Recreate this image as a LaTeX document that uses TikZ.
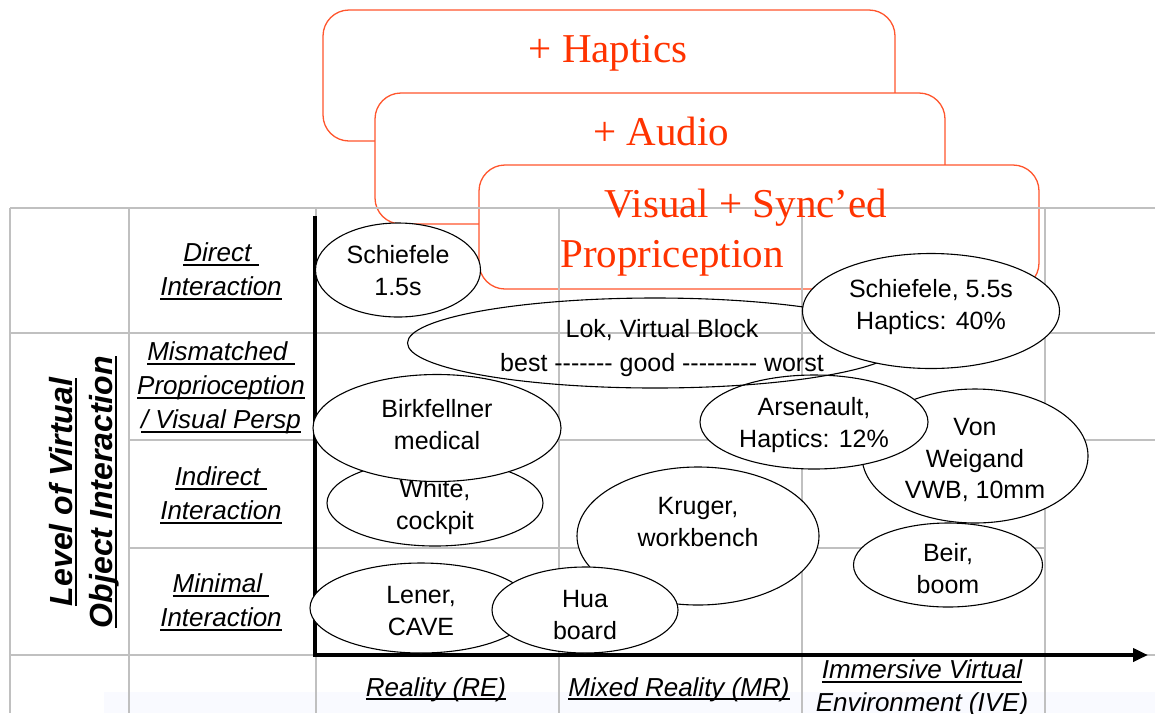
\documentclass[tikz,border=0pt]{standalone}
\usepackage{fontspec}
\setmainfont{Liberation Sans}
\newfontfamily\serifbox{Liberation Serif}
\usetikzlibrary{shapes.geometric,arrows.meta}
\definecolor{gridgray}{RGB}{192,192,192}
\definecolor{boxred}{RGB}{255,85,45}
\definecolor{txtred}{RGB}{255,51,0}
\definecolor{paleblue}{RGB}{249,250,255}
\newcommand\ulx[1]{\setbox0=\hbox{#1}\rlap{\rule[-0.17em]{\wd0}{0.075em}}\box0}
\begin{document}
\begin{tikzpicture}[x=1pt,y=-1pt,
  ell/.style={ellipse, draw=black, line width=1.1pt, fill=white, inner sep=0pt},
  lokell/.style={ellipse, draw=black, line width=1.1pt, inner sep=0pt},
  etext/.style={align=center, font=\fontsize{25}{31.5}\selectfont, inner sep=0pt},
  lokt/.style={align=center, font=\fontsize{25}{34}\selectfont, inner sep=0pt},
  rowlab/.style={align=center, font=\fontsize{26}{34}\selectfont\itshape, inner sep=0pt},
  collab/.style={align=center, font=\fontsize{26}{33}\selectfont\itshape, inner sep=0pt},
  rbox/.style={rectangle, rounded corners=26pt, draw=boxred, line width=1.3pt, fill=white, inner sep=0pt},
  btext/.style={font=\serifbox\fontsize{41}{50}\selectfont, text=txtred, inner sep=0pt, anchor=base},
  gridl/.style={draw=gridgray, line width=2pt},
  axisl/.style={line width=4pt, draw=black},
]
\useasboundingbox (0,0) rectangle (1155,713);
\fill[white] (0,0) rectangle (1155,713);
\fill[paleblue] (104,692) rectangle (1155,713);

% red stacked boxes
\node[rbox, minimum width=572, minimum height=131] (b1) at (609,75.5) {};
\node[rbox, minimum width=570, minimum height=131] (b2) at (660,158.5) {};
\node[rbox, minimum width=560, minimum height=124] (b3) at (759,227) {};

% grid
\draw[gridl] (10,208) -- (1155,208);
\draw[gridl] (10,333) -- (1155,333);
\draw[gridl] (129,440) -- (1155,440);
\draw[gridl] (129,548) -- (1045,548);
\draw[gridl] (10,655) -- (1155,655);
\foreach \x in {10,129,316,559,802,1045} \draw[gridl] (\x,208) -- (\x,713);

% box texts
\node[btext] (t1) at (608,62) {+ Haptics};
\node[btext] (t2) at (661,145) {+ Audio};
\node[btext] (t3) at (746,217) {Visual + Sync’ed};
\node[btext] (t4) at (672,267) {Propriception};

% axes
\coordinate (ytop) at (315,216);
\coordinate (ybot) at (315,657);
\coordinate (xbeg) at (313,655);
\coordinate (xend) at (1148,655);
\draw[axisl] (ytop) -- (ybot);
\draw[axisl, -{Triangle[length=15pt,width=13pt]}] (xbeg) -- (xend);

% row labels
\node[rowlab] (r1) at (221,271.7) {\strut\ulx{Direct\ }\\\strut\ulx{Interaction}};
\node[rowlab] (r2) at (221,388) {\strut\ulx{Mismatched\ }\\\strut\ulx{Proprioception}\\\strut\ulx{/ Visual Persp}};
\node[rowlab] (r3) at (221,495.7) {\strut\ulx{Indirect\ }\\\strut\ulx{Interaction}};
\node[rowlab] (r4) at (221,603) {\strut\ulx{Minimal\ }\\\strut\ulx{Interaction}};

\node[rotate=90, align=center, font=\fontsize{32}{40}\selectfont\bfseries\itshape, inner sep=0pt] (lvl) at (84,492) {\strut\ulx{Level of Virtual}\\\strut\ulx{Object Interaction}};

% column labels
\node[collab, anchor=base] (c1) at (436,696) {\ulx{Reality (RE)}};
\node[collab, anchor=base] (c2) at (679,696) {\ulx{Mixed Reality (MR)}};
\node[collab] (c3) at (922,688) {\strut\ulx{Immersive Virtual}\\\strut\ulx{Environment (IVE)}};

% ellipses
\node[ell, minimum width=222, minimum height=90, label={[etext,yshift=-5]center:{\strut Lener,\\\strut CAVE}}] (lener) at (421,608) {};
\node[ell, minimum width=242, minimum height=138, label={[etext,yshift=12]center:{\strut Kruger,\\\strut workbench}}] (kruger) at (698,536) {};
\node[ell, minimum width=186, minimum height=86, label={[etext,yshift=-7]center:{\strut Hua\\\strut board}}] (hua) at (585,610) {};
\node[ell, minimum width=216, minimum height=86, label={[etext,yshift=-4]center:{\strut White,\\\strut cockpit}}] (white) at (435,503) {};
\node[ell, minimum width=248, minimum height=107, label={[etext,yshift=1]center:{\strut Birkfellner\\\strut medical}}] (birk) at (437,428) {};
\node[ell, minimum width=226, minimum height=134, label={[etext,yshift=-5]center:{\strut Von\\\strut Weigand\\\strut VWB, 10mm}}] (vw) at (975,456) {};
\node[ell, minimum width=228, minimum height=94, label={[etext,yshift=-3]center:{\strut Arsenault,\\\strut Haptics: 12\%}}] (ars) at (814,422) {};
\node[lokell, minimum width=495, minimum height=90, label={[lokt,yshift=-5,xshift=7]center:{\strut Lok, Virtual Block\\\strut best -{}-{}-{}-{}-{}-{}- good -{}-{}-{}-{}-{}-{}-{}-{}- worst}}] (lok) at (655,343) {};
\node[ell, minimum width=257, minimum height=115, label={[etext,yshift=4]center:{\strut Schiefele, 5.5s\\\strut Haptics: 40\%}}] (s55) at (931,311) {};
\node[ell, minimum width=165, minimum height=94, label={[etext,yshift=-3]center:{\strut Schiefele\\\strut 1.5s}}] (s15) at (398,270) {};
\node[ell, minimum width=189, minimum height=84, label={[etext,yshift=-6]center:{\strut Beir,\\\strut boom}}] (beir) at (948,565) {};
\end{tikzpicture}
\end{document}
